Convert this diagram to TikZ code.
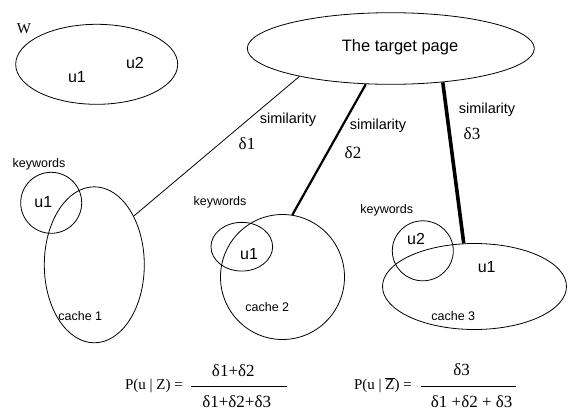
\documentclass[tikz,border=0pt]{standalone}
\usepackage{fontspec}
\setmainfont{Liberation Serif}
\setsansfont{Liberation Sans}
\usetikzlibrary{shapes.geometric}
\tikzset{
  oval/.style={draw, ellipse, inner sep=0pt, line width=0.8pt},
  sanslabel/.style={font=\sffamily\fontsize{#1}{#1}\selectfont, inner sep=0pt},
  seriflabel/.style={font=\rmfamily\fontsize{#1}{#1}\selectfont, inner sep=0pt},
  link/.style={line width=#1},
  fracbar/.style={line width=0.7pt}
}
\begin{document}
\begin{tikzpicture}[x=1pt, y=-1pt]
\useasboundingbox (0,0) rectangle (568,410);

% W set
\node[oval, minimum width=162pt, minimum height=80pt] (wset) at (96.7,64.3) {};
\node[seriflabel=15] (wlab) at (24,29) {W};
\node[sanslabel=16] (wu1) at (77,77) {u1};
\node[sanslabel=16] (wu2) at (135,63) {u2};

% target page
\node[oval, minimum width=287pt, minimum height=71.6pt] (target) at (390.8,48.5) {};
\node[sanslabel=16.5] (tlab) at (400,47.5) {The target page};

% cache 1
\node[oval, minimum width=61pt, minimum height=61pt] (kw1) at (51.2,202.8) {};
\node[oval, minimum width=100pt, minimum height=156pt] (cache1) at (94.3,264.8) {};
\node[sanslabel=12.5] (kw1lab) at (39,164) {keywords};
\node[sanslabel=16] (c1u1) at (43.3,201.7) {u1};
\node[sanslabel=12.5] (c1lab) at (80.3,315.7) {cache 1};

% cache 2
\node[oval, minimum width=61.7pt, minimum height=48.7pt] (kw2) at (241.8,246.7) {};
\node[oval, minimum width=124pt, minimum height=125pt] (cache2) at (282.5,277) {};
\node[sanslabel=12.5] (kw2lab) at (220,202.7) {keywords};
\node[sanslabel=16] (c2u1) at (249,254) {u1};
\node[sanslabel=12.5] (c2lab) at (267.3,306.7) {cache 2};

% cache 3
\node[oval, minimum width=61pt, minimum height=60pt] (kw3) at (422.8,250.8) {};
\node[oval, minimum width=184pt, minimum height=86pt] (cache3) at (474.5,286.5) {};
\node[sanslabel=12.5] (kw3lab) at (386.7,210.7) {keywords};
\node[sanslabel=16] (c3u2) at (416,239.3) {u2};
\node[sanslabel=16] (c3u1) at (486.7,267.3) {u1};
\node[sanslabel=12.5] (c3lab) at (453.3,316) {cache 3};

% similarity links
\draw[link=0.8pt] (target.197) -- (cache1.51);
\draw[link=2.2pt] (target.235) -- (cache2.81);
\draw[link=3.6pt] (target.327.5) -- (cache3.104.5);

\node[sanslabel=14.5] (sim1) at (288,120) {similarity};
\node[seriflabel=17] (d1) at (247,144) {δ1};
\node[sanslabel=14.5] (sim2) at (378,125.5) {similarity};
\node[seriflabel=17] (d2) at (353,152.5) {δ2};
\node[sanslabel=14.5] (sim3) at (487,110) {similarity};
\node[seriflabel=17] (d3) at (472,134) {δ3};

% formulas
\node[seriflabel=15] (pz) at (154,385.5) {P(u | Z) =};
\node[seriflabel=17] (pznum) at (233.3,371) {δ1+δ2};
\node[seriflabel=17] (pzden) at (236.7,401.7) {δ1+δ2+δ3};
\draw[fracbar] (190.7,386.7) -- (287.3,386.7);

\node[seriflabel=15] (pzb) at (383,385.5) {P(u | $\overline{\mbox{Z}}$) =};
\node[seriflabel=17] (pzbnum) at (461.7,370) {δ3};
\node[seriflabel=17] (pzbden) at (471.7,401.7) {δ1 +δ2 + δ3};
\draw[fracbar] (421,386.7) -- (515.7,386.7);
\end{tikzpicture}
\end{document}
